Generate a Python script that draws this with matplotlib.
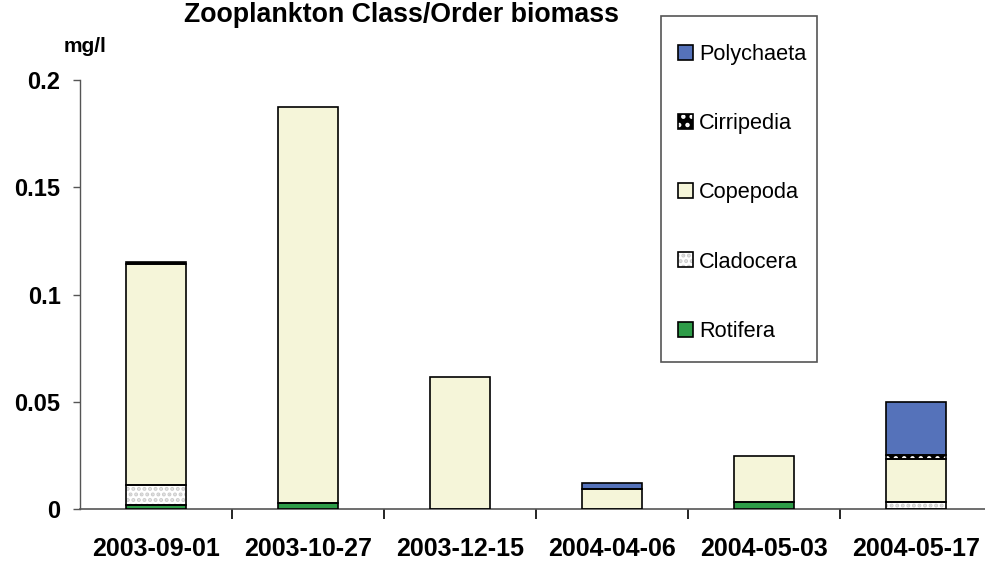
import matplotlib
matplotlib.use('Agg')
import matplotlib.pyplot as plt
from matplotlib.patches import Patch, Rectangle
from matplotlib.legend_handler import HandlerTuple
import numpy as np

plt.rcParams['font.family'] = ['Liberation Sans', 'DejaVu Sans']
plt.rcParams['hatch.linewidth'] = 2.0

dates = ['2003-09-01', '2003-10-27', '2003-12-15', '2004-04-06', '2004-05-03', '2004-05-17']
rotifera = [0.0020, 0.0028, 0.0, 0.0, 0.0033, 0.0]
cladocera = [0.0092, 0.0, 0.0, 0.0, 0.0, 0.0033]
copepoda = [0.1030, 0.1846, 0.0615, 0.0093, 0.0214, 0.0200]
cirripedia = [0.0010, 0.0, 0.0, 0.0, 0.0, 0.0019]
polychaeta = [0.0, 0.0, 0.0, 0.0028, 0.0, 0.0247]

# name, values, face, hatch, hatch colour
series = [
    ('Rotifera', rotifera, '#2e9c48', None, None),
    ('Cladocera', cladocera, 'white', '...', '#cccccc'),
    ('Copepoda', copepoda, '#f5f5d9', None, None),
    ('Cirripedia', cirripedia, 'black', '..', 'white'),
    ('Polychaeta', polychaeta, '#5572ba', None, None),
]

fig = plt.figure(figsize=(9.85, 5.64), dpi=100)
ax = fig.add_axes([80 / 985, 55 / 564, 912 / 985, 429 / 564])

x = np.arange(len(dates))
width = 0.4
bottom = np.zeros(len(dates))
handles = []
for name, vals, face, hatch, hcol in series:
    vals = np.array(vals)
    if hatch:
        ax.bar(x, vals, width, bottom=bottom, color=face, hatch=hatch,
               edgecolor=hcol, linewidth=0, zorder=2)
        h1 = Patch(facecolor=face, hatch=hatch, edgecolor=hcol, linewidth=0)
    else:
        ax.bar(x, vals, width, bottom=bottom, color=face, linewidth=0, zorder=2)
        h1 = Patch(facecolor=face, linewidth=0)
    mask = vals > 0
    ax.bar(x[mask], vals[mask], width, bottom=bottom[mask], fill=False,
           edgecolor='black', linewidth=1.2, zorder=3)
    h2 = Patch(fill=False, edgecolor='black', linewidth=1.2)
    handles.append(((h1, h2), name))
    bottom = bottom + vals

ax.set_xlim(-0.5, len(dates) - 0.5)
ax.set_ylim(0, 0.2)
ax.set_yticks([0, 0.05, 0.1, 0.15, 0.2])
ax.set_yticklabels(['0', '0.05', '0.1', '0.15', '0.2'])
ax.set_xticks(x)
ax.set_xticklabels(dates)
ax.set_xticks(np.arange(len(dates)) + 0.5, minor=True)
ax.tick_params(axis='x', which='major', length=0, pad=20, labelsize=18)
ax.tick_params(axis='x', which='minor', length=7, width=1.2, color='black')
ax.tick_params(axis='y', length=5, width=1, color='#555555', pad=9, labelsize=17)
for lab in ax.get_xticklabels() + ax.get_yticklabels():
    lab.set_fontweight('bold')

for s in ['top', 'right']:
    ax.spines[s].set_visible(False)
ax.spines['left'].set_color('#555555')
ax.spines['bottom'].set_color('#555555')
ax.spines['left'].set_linewidth(1)
ax.spines['bottom'].set_linewidth(1.2)

fig.text(401 / 985, 1 - 15 / 564, 'Zooplankton Class/Order biomass',
         fontsize=19.3, fontweight='bold', ha='center', va='center')
fig.text(85 / 985, 1 - 46 / 564, 'mg/l', fontsize=15, fontweight='bold',
         ha='center', va='center')

# legend frame drawn separately so its padding matches the original
fig.patches.append(Rectangle((661 / 985, 1 - 362 / 564), 156 / 985, 346 / 564,
                             transform=fig.transFigure, fill=False,
                             edgecolor='#555555', linewidth=1.2))
hs = [h for h, n in handles][::-1]
ns = [n for h, n in handles][::-1]
leg = fig.legend(hs, ns, loc='upper left', bbox_to_anchor=(678 / 985, 1 - 44 / 564),
                 bbox_transform=fig.transFigure, fontsize=15.7, frameon=False,
                 handlelength=0.68, handleheight=0.68, handletextpad=0.3,
                 labelspacing=2.21, borderpad=0, borderaxespad=0,
                 handler_map={tuple: HandlerTuple(ndivide=1, pad=0)})

plt.savefig('out.png', dpi=100)
